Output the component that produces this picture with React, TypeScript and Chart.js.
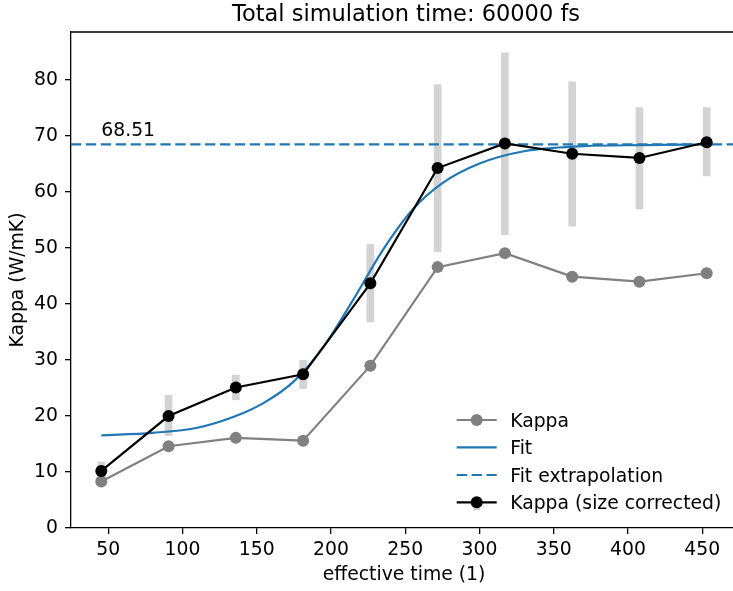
import React, { useEffect, useRef } from "react";
import { Chart, registerables } from "chart.js";

Chart.register(...registerables);

const TITLE = "Total simulation time: 60000 fs";
const X_LABEL = "effective time (1)";
const Y_LABEL = "Kappa (W/mK)";

const effectiveTime = [45.3, 90.6, 135.9, 181.2, 226.5, 271.8, 317.1, 362.4, 407.7, 453.0];
const kappa = [8.3, 14.6, 16.1, 15.6, 29.0, 46.6, 49.1, 44.9, 44.0, 45.5];
const kappaCorrected = [10.2, 20.0, 25.1, 27.45, 43.7, 64.3, 68.7, 66.85, 66.1, 68.9];
const errLow = [8.6, 16.5, 22.9, 24.9, 36.8, 49.3, 52.4, 53.9, 57.0, 62.9];
const errHigh = [11.8, 23.7, 27.3, 29.95, 50.7, 79.2, 84.9, 79.7, 75.1, 75.1];

const fitTime = [45.3, 80, 110, 135, 155, 175, 195, 215, 235, 255, 275, 300, 330, 370, 410, 453];
const fitKappa = [16.55, 17.0, 17.9, 19.9, 22.4, 26.2, 32.4, 40.8, 49.7, 56.9, 61.6, 65.1, 67.3, 68.2, 68.4, 68.5];
const fitValue = 68.51;
const fitValueLabel = "68.51";

const xTicks = [50, 100, 150, 200, 250, 300, 350, 400, 450];
const yTicks = [0, 10, 20, 30, 40, 50, 60, 70, 80];
const X_MIN = 24.9;
const X_MAX = 473.4;
const Y_MIN = 0;
const Y_MAX = 88.6;

const legendLabels = ["Kappa", "Fit", "Fit extrapolation", "Kappa (size corrected)"];

const FONT = '"DejaVu Sans", sans-serif';
const FS = 18.8;
const TITLE_FS = 22.5;
const BLUE = "#1f77b4";
const GRAY = "#808080";
const ERR = "#d3d3d3";
const LW = 2.2;
const DASH = [10.3, 4.6];

const decorPlugin = {
  id: "decor",
  afterDraw(chart: any) {
    const ctx = chart.ctx;
    const ca = chart.chartArea;
    const xs = chart.scales.x;
    const ys = chart.scales.y;
    ctx.save();
    // top & right spines
    ctx.strokeStyle = "#000";
    ctx.lineWidth = 1.3;
    ctx.beginPath();
    ctx.moveTo(ca.left, ca.top);
    ctx.lineTo(ca.right, ca.top);
    ctx.lineTo(ca.right, ca.bottom);
    ctx.stroke();

    ctx.fillStyle = "#000";
    // title
    ctx.font = `${TITLE_FS}px ${FONT}`;
    ctx.textAlign = "center";
    ctx.textBaseline = "alphabetic";
    ctx.fillText(TITLE, (ca.left + ca.right) / 2 + 2, 21);
    // x label
    ctx.font = `${FS}px ${FONT}`;
    ctx.fillText(X_LABEL, (ca.left + ca.right) / 2, 579.5);
    // y label
    ctx.save();
    ctx.translate(23, (ca.top + ca.bottom) / 2);
    ctx.rotate(-Math.PI / 2);
    ctx.fillText(Y_LABEL, 0, 0);
    ctx.restore();

    // annotation
    ctx.textAlign = "left";
    ctx.fillText(fitValueLabel, xs.getPixelForValue(effectiveTime[0]), ys.getPixelForValue(fitValue + 1.5));

    // legend
    const x0 = ca.right - 280.3;
    const x1 = x0 + 40;
    const xm = (x0 + x1) / 2;
    const tx = x0 + 53.5;
    const rows = [ca.bottom - 108, ca.bottom - 80.7, ca.bottom - 53, ca.bottom - 25.7];
    const line = (y: number, color: string, dash: number[]) => {
      ctx.save();
      ctx.strokeStyle = color;
      ctx.lineWidth = LW;
      ctx.setLineDash(dash);
      ctx.beginPath();
      ctx.moveTo(x0, y);
      ctx.lineTo(x1, y);
      ctx.stroke();
      ctx.restore();
    };
    const dot = (y: number, color: string) => {
      ctx.fillStyle = color;
      ctx.beginPath();
      ctx.arc(xm, y, 6, 0, Math.PI * 2);
      ctx.fill();
    };
    line(rows[0], GRAY, []);
    dot(rows[0], GRAY);
    line(rows[1], BLUE, []);
    line(rows[2], BLUE, DASH);
    ctx.fillStyle = ERR;
    ctx.fillRect(xm - 3.5, rows[3] - 4, 7, 12);
    line(rows[3], "#000", []);
    dot(rows[3], "#000");
    ctx.fillStyle = "#000";
    ctx.font = `${FS}px ${FONT}`;
    ctx.textAlign = "left";
    legendLabels.forEach((t, i) => ctx.fillText(t, tx, rows[i] + 6.5));
    ctx.restore();
  },
};

export default function App() {
  const ref = useRef<HTMLCanvasElement | null>(null);
  useEffect(() => {
    if (!ref.current) return;
    const pts = (xsArr: number[], ysArr: number[]) => xsArr.map((x, i) => ({ x, y: ysArr[i] }));
    const chart = new Chart(ref.current, {
      type: "line",
      data: {
        datasets: [
          {
            label: "Kappa (size corrected)",
            data: pts(effectiveTime, kappaCorrected),
            borderColor: "#000",
            backgroundColor: "#000",
            borderWidth: LW,
            pointRadius: 6,
            pointBorderWidth: 0,
            pointBackgroundColor: "#000",
            order: 1,
          },
          {
            label: "Fit extrapolation",
            data: [
              { x: X_MIN, y: fitValue },
              { x: X_MAX, y: fitValue },
            ],
            borderColor: BLUE,
            borderWidth: LW,
            borderDash: DASH,
            pointRadius: 0,
            order: 2,
          },
          {
            label: "Fit",
            data: pts(fitTime, fitKappa),
            borderColor: BLUE,
            borderWidth: LW,
            pointRadius: 0,
            cubicInterpolationMode: "monotone",
            order: 3,
          },
          {
            label: "Kappa",
            data: pts(effectiveTime, kappa),
            borderColor: GRAY,
            backgroundColor: GRAY,
            borderWidth: LW,
            pointRadius: 6,
            pointBorderWidth: 0,
            pointBackgroundColor: GRAY,
            order: 4,
          },
          {
            type: "bar",
            label: "error",
            data: effectiveTime.map((x, i) => ({ x, y: [errLow[i], errHigh[i]] })),
            backgroundColor: ERR,
            borderWidth: 0,
            barThickness: 7,
            grouped: false,
            order: 5,
          } as any,
        ],
      },
      options: {
        animation: false,
        responsive: false,
        devicePixelRatio: 1,
        layout: { padding: { top: 32, right: 13, left: 0, bottom: 0 } },
        plugins: { legend: { display: false }, tooltip: { enabled: false }, title: { display: false } },
        scales: {
          x: {
            type: "linear",
            min: X_MIN,
            max: X_MAX,
            offset: false,
            afterBuildTicks: (s: any) => {
              s.ticks = xTicks.map((v) => ({ value: v }));
            },
            afterFit: (s: any) => {
              s.height = 63;
            },
            grid: { display: true, drawOnChartArea: false, drawTicks: true, tickLength: 6, color: "#000", lineWidth: 1.3, offset: false },
            border: { display: true, color: "#000", width: 1.3 },
            ticks: { color: "#000", font: { family: FONT, size: FS }, padding: 5, maxRotation: 0, autoSkip: false },
          },
          y: {
            type: "linear",
            min: Y_MIN,
            max: Y_MAX,
            afterBuildTicks: (s: any) => {
              s.ticks = yTicks.map((v) => ({ value: v }));
            },
            afterFit: (s: any) => {
              s.width = 71;
            },
            grid: { display: true, drawOnChartArea: false, drawTicks: true, tickLength: 6, color: "#000", lineWidth: 1.3 },
            border: { display: true, color: "#000", width: 1.3 },
            ticks: { color: "#000", font: { family: FONT, size: FS }, padding: 7, autoSkip: false },
          },
        },
      } as any,
      plugins: [decorPlugin],
    });
    return () => chart.destroy();
  }, []);
  return (
    <div style={{ position: "fixed", left: 0, top: 0, width: 733, height: 591, overflow: "hidden", background: "#fff" }}>
      <canvas ref={ref} width={750} height={591} style={{ display: "block", width: 750, height: 591 }} />
    </div>
  );
}
